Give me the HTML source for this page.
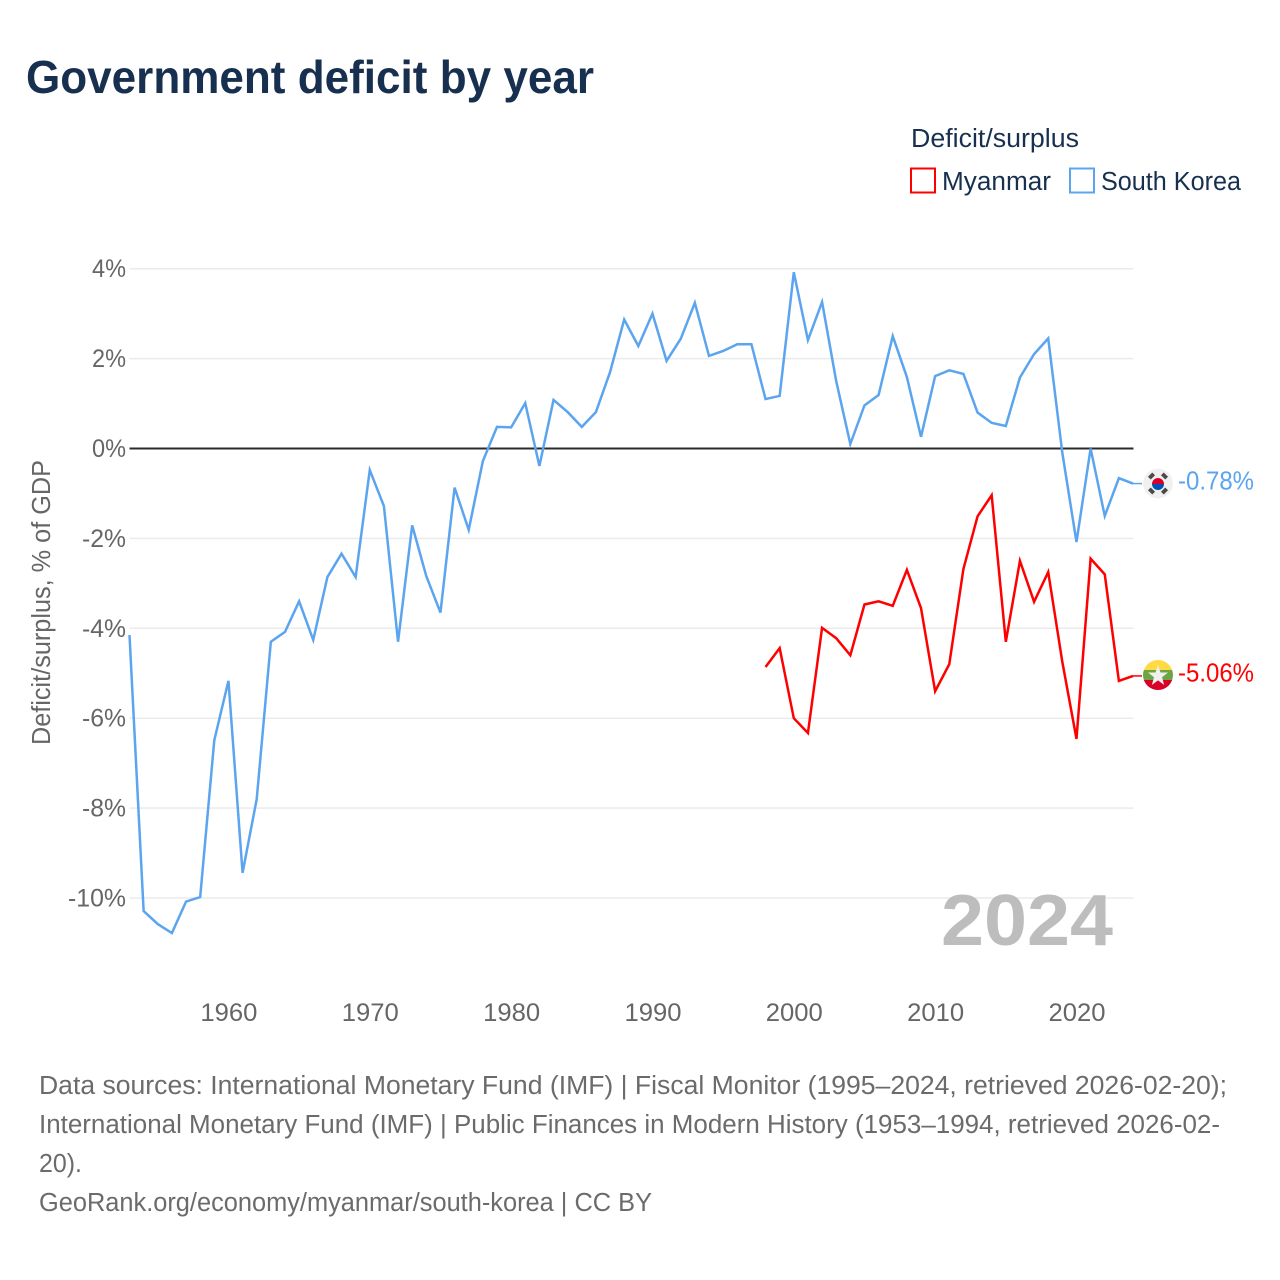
<!DOCTYPE html>
<html lang="en">
<head>
<meta charset="utf-8">
<title>Government deficit by year</title>
<style>
html,body{margin:0;padding:0;background:#fff;}
svg{display:block;font-family:"Liberation Sans",sans-serif;}
</style>
</head>
<body>
<svg id="chart" xmlns="http://www.w3.org/2000/svg" width="1280" height="1280" viewBox="0 0 1280 1280">
  <defs>
    <clipPath id="kr-clip"><circle cx="1158" cy="483.5" r="15"/></clipPath>
    <clipPath id="mm-clip"><circle cx="1158" cy="675" r="15"/></clipPath>
  </defs>
  <rect x="0" y="0" width="1280" height="1280" fill="#ffffff"/>
  <text x="26" y="93" font-size="46" font-weight="700" fill="#18304f" textLength="568" lengthAdjust="spacingAndGlyphs">Government deficit by year</text>

  <g>
    <text x="911" y="147" font-size="25.500" fill="#18304f" textLength="168" lengthAdjust="spacingAndGlyphs">Deficit/surplus</text>
    <rect x="911" y="168.500" width="24" height="24" fill="#ffffff" stroke="#ff0000" stroke-width="2"/>
    <text x="942" y="190" font-size="25.500" fill="#18304f" textLength="109" lengthAdjust="spacingAndGlyphs">Myanmar</text>
    <rect x="1070" y="168.500" width="24" height="24" fill="#ffffff" stroke="#5ba4ef" stroke-width="2"/>
    <text x="1101" y="190" font-size="25.500" fill="#18304f" textLength="140" lengthAdjust="spacingAndGlyphs">South Korea</text>
  </g>

  <g id="grid"></g>
  <g id="yticks"></g>
  <g id="xticks"></g>
  <text transform="translate(50,745) rotate(-90)" x="0" y="0" font-size="25.500" fill="#666666" textLength="285" lengthAdjust="spacingAndGlyphs">Deficit/surplus, % of GDP</text>

  <text x="941" y="945" font-size="72" font-weight="700" fill="#bdbdbd" textLength="172" lengthAdjust="spacingAndGlyphs">2024</text>

  <g id="series"></g>

  <g clip-path="url(#kr-clip)">
    <circle cx="1158" cy="483.5" r="15" fill="#f0f0f0"/>
    <path d="M1152 484a6 6 0 0 1 12 0z" fill="#d80027"/>
    <path d="M1152 484a6 6 0 0 0 12 0z" fill="#0052b4"/>
    <g fill="#4a4a4a">
      <rect x="-3" y="-2" width="6" height="4" transform="translate(1151.500,476) rotate(-45)"/>
      <rect x="-3" y="-2" width="6" height="4" transform="translate(1164.500,476) rotate(45)"/>
      <rect x="-3" y="-2" width="6" height="4" transform="translate(1151.500,491) rotate(45)"/>
      <rect x="-3" y="-2" width="6" height="4" transform="translate(1164.500,491) rotate(-45)"/>
    </g>
  </g>
  <g clip-path="url(#mm-clip)">
    <rect x="1143" y="660" width="30" height="10" fill="#ffda44"/>
    <rect x="1143" y="670" width="30" height="10" fill="#6da544"/>
    <rect x="1143" y="680" width="30" height="10" fill="#d80027"/>
    <polygon points="1158,665 1160.500,672.500 1168,672.500 1162,677.200 1164.200,685 1158,680.400 1151.800,685 1154,677.200 1148,672.500 1155.500,672.500" fill="#f0f0f0"/>
  </g>

  <text x="1178" y="489.500" font-size="25.500" fill="#5ba4ef" textLength="76" lengthAdjust="spacingAndGlyphs">-0.78%</text>
  <text x="1178" y="681.500" font-size="25.500" fill="#ff0000" textLength="76" lengthAdjust="spacingAndGlyphs">-5.06%</text>

  <g font-size="25.500" fill="#6b6b6b">
    <text x="39" y="1094" textLength="1188" lengthAdjust="spacingAndGlyphs">Data sources: International Monetary Fund (IMF) | Fiscal Monitor (1995–2024, retrieved 2026-02-20);</text>
    <text x="39" y="1133" textLength="1181" lengthAdjust="spacingAndGlyphs">International Monetary Fund (IMF) | Public Finances in Modern History (1953–1994, retrieved 2026-02-</text>
    <text x="39" y="1172" textLength="43" lengthAdjust="spacingAndGlyphs">20).</text>
    <text x="39" y="1211" textLength="613" lengthAdjust="spacingAndGlyphs">GeoRank.org/economy/myanmar/south-korea | CC BY</text>
  </g>
</svg>
<script>
const koreaStartYear = 1953;
const koreaValues = [-4.15,-10.29,-10.58,-10.78,-10.08,-9.98,-6.49,-5.17,-9.44,-7.8,-4.3,-4.08,-3.4,-4.26,-2.86,-2.34,-2.86,-0.48,-1.28,-4.3,-1.71,-2.84,-3.65,-0.87,-1.81,-0.28,0.48,0.47,1.01,-0.39,1.08,0.81,0.48,0.81,1.7,2.87,2.28,3.0,1.95,2.44,3.24,2.06,2.17,2.32,2.32,1.1,1.17,3.92,2.41,3.26,1.5,0.1,0.96,1.19,2.5,1.59,0.26,1.61,1.74,1.66,0.8,0.57,0.5,1.58,2.1,2.45,-0.1,-2.08,0,-1.5,-0.66,-0.78];
const myanmarStartYear = 1998;
const myanmarValues = [-4.86,-4.44,-6.0,-6.33,-3.99,-4.22,-4.6,-3.47,-3.4,-3.5,-2.7,-3.55,-5.4,-4.8,-2.68,-1.51,-1.04,-4.3,-2.5,-3.41,-2.75,-4.75,-6.46,-2.45,-2.8,-5.17,-5.06];
const yTickValues = [4,2,0,-2,-4,-6,-8,-10];
const xTickValues = [1960,1970,1980,1990,2000,2010,2020];

const NS = 'http://www.w3.org/2000/svg';
const xScale = function (year) { return 129.5 + (year - 1953) * 14.134; };
const yScale = function (v) { return 448.5 - v * 44.95; };
const plotLeft = 129.5;
const plotRight = 1133.5;

const grid = document.getElementById('grid');
const yticks = document.getElementById('yticks');
const xticks = document.getElementById('xticks');
const series = document.getElementById('series');

yTickValues.forEach(function (v) {
  const line = document.createElementNS(NS, 'line');
  
  
  line.setAttribute('x1', plotLeft);
  line.setAttribute('x2', plotRight);
  line.setAttribute('y1', yScale(v));
  line.setAttribute('y2', yScale(v));
  line.setAttribute('stroke', v === 0 ? '#2b2b2b' : '#ebebeb');
  line.setAttribute('stroke-width', v === 0 ? 2 : 1.5);
  grid.appendChild(line);

  const label = document.createElementNS(NS, 'text');
  
  
  const str = v + '%';
  const digits = String(Math.abs(v)).length;
  const w = digits * 14 + 20 + (v < 0 ? 10 : 0);
  label.setAttribute('x', 126 - w);
  label.setAttribute('y', yScale(v) + 8.5);
  label.setAttribute('font-size', 25);
  label.setAttribute('fill', '#666666');
  label.setAttribute('textLength', w);
  label.setAttribute('lengthAdjust', 'spacingAndGlyphs');
  label.textContent = str;
  yticks.appendChild(label);
});

xTickValues.forEach(function (year) {
  const label = document.createElementNS(NS, 'text');
  
  
  label.setAttribute('x', xScale(year) + 0.5);
  label.setAttribute('y', 1021);
  label.setAttribute('font-size', 25);
  label.setAttribute('fill', '#666666');
  label.setAttribute('text-anchor', 'middle');
  label.setAttribute('textLength', 57);
  label.setAttribute('lengthAdjust', 'spacingAndGlyphs');
  label.textContent = year;
  xticks.appendChild(label);
});

const koreaPoints = koreaValues.map(function (v, i) {
  return xScale(koreaStartYear + i).toFixed(2) + ',' + yScale(v).toFixed(2);
}).join(' ');
const koreaLine = document.createElementNS(NS, 'polyline');


koreaLine.setAttribute('points', koreaPoints);
koreaLine.setAttribute('fill', 'none');
koreaLine.setAttribute('stroke', '#5ba4ef');
koreaLine.setAttribute('stroke-width', 2.5);
koreaLine.setAttribute('stroke-linejoin', 'miter');
series.appendChild(koreaLine);

const myanmarPoints = myanmarValues.map(function (v, i) {
  return xScale(myanmarStartYear + i).toFixed(2) + ',' + yScale(v).toFixed(2);
}).join(' ');
const myanmarLine = document.createElementNS(NS, 'polyline');


myanmarLine.setAttribute('points', myanmarPoints);
myanmarLine.setAttribute('fill', 'none');
myanmarLine.setAttribute('stroke', '#ff0000');
myanmarLine.setAttribute('stroke-width', 2.5);
myanmarLine.setAttribute('stroke-linejoin', 'miter');
series.appendChild(myanmarLine);

const koreaLeader = document.createElementNS(NS, 'line');


koreaLeader.setAttribute('x1', xScale(2024));
koreaLeader.setAttribute('x2', 1142);
koreaLeader.setAttribute('y1', yScale(koreaValues[koreaValues.length - 1]));
koreaLeader.setAttribute('y2', yScale(koreaValues[koreaValues.length - 1]));
koreaLeader.setAttribute('stroke', '#5ba4ef');
koreaLeader.setAttribute('stroke-width', 1.5);
series.appendChild(koreaLeader);

const myanmarLeader = document.createElementNS(NS, 'line');


myanmarLeader.setAttribute('x1', xScale(2024));
myanmarLeader.setAttribute('x2', 1142);
myanmarLeader.setAttribute('y1', yScale(myanmarValues[myanmarValues.length - 1]));
myanmarLeader.setAttribute('y2', yScale(myanmarValues[myanmarValues.length - 1]));
myanmarLeader.setAttribute('stroke', '#ff0000');
myanmarLeader.setAttribute('stroke-width', 1.5);
series.appendChild(myanmarLeader);
</script>
</body>
</html>
